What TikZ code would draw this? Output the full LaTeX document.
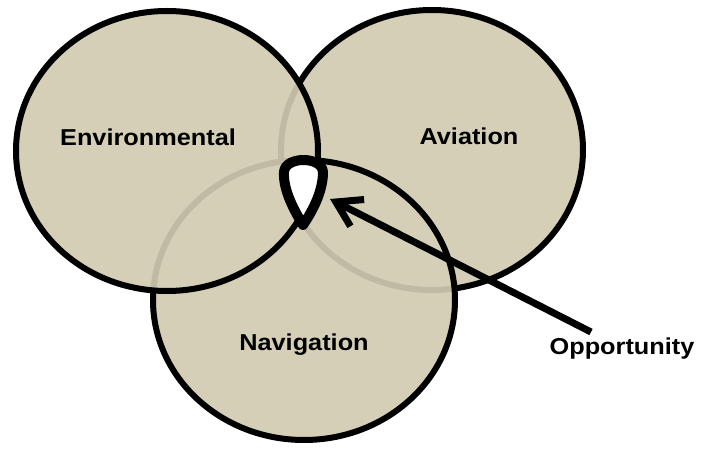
\documentclass[tikz,border=0pt]{standalone}
\usepackage{fontspec}
\setmainfont[FakeStretch=1.1]{Liberation Sans}
\usetikzlibrary{arrows.meta}
\definecolor{sand}{RGB}{213,207,183}

\begin{document}
\begin{tikzpicture}[
  x=1pt, y=-1pt,
  lobe/.style={x radius=151, y radius=140},
  zone/.style={draw=black, line width=6pt, fill=sand, fill opacity=0.9},
  rim/.style={draw=black, line width=10pt, line join=round},
  areaname/.style={anchor=base, font=\fontsize{23}{27}\selectfont\bfseries},
  pointer/.style={line width=7pt, -{Straight Barb[length=24pt, width=30pt]}}
]
\useasboundingbox (0,0) rectangle (702,449);

% ----------------- CENTRES -----------------
\coordinate (env) at (167,151);
\coordinate (avi) at (432,150);
\coordinate (nav) at (304,300);

% ----------------- THE THREE AREAS (bottom to top) -----------------
\fill[sand] (avi) ellipse [lobe] (nav) ellipse [lobe] (env) ellipse [lobe];
\draw[zone] (avi) ellipse [lobe];
\draw[zone] (nav) ellipse [lobe];
\draw[zone] (env) ellipse [lobe];

% ----------------- COMMON PART -----------------
\draw[rim, fill=white] (303,225) .. controls (292,207) and (283,188) .. (284,172)
  .. controls (285,156) and (322,156) .. (323,172)
  .. controls (323,190) and (314,209) .. (303,225) -- cycle;

% ----------------- LABELS -----------------
\node[areaname] (envtext) at (148,146) {Environmental};
\node[areaname] (avitext) at (469,145) {Aviation};
\node[areaname] (navtext) at (304,350) {Navigation};
\node[areaname] (opp) at (622,355) {Opportunity};

% ----------------- POINTER -----------------
\coordinate (tail) at (591,332);
\coordinate (spot) at (330,199);
\draw[pointer] (tail) -- (spot);

\end{tikzpicture}
\end{document}
